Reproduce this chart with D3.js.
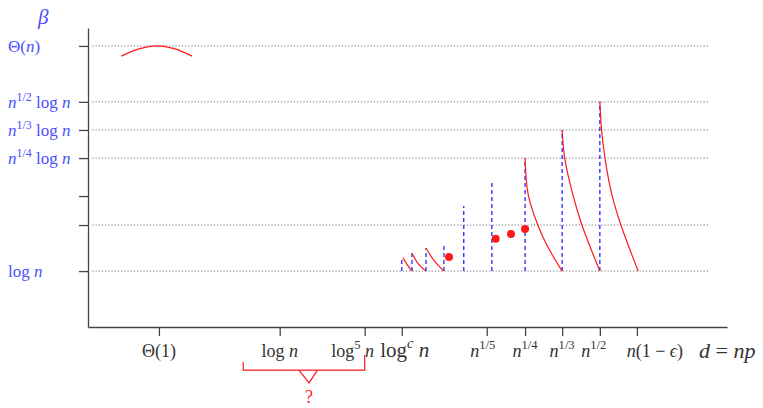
<!DOCTYPE html>
<html>
<head>
<meta charset="utf-8">
<script src="https://cdn.jsdelivr.net/npm/d3@7"></script>
<style>
  body { margin: 0; background: #fff; }
  text { font-family: "Liberation Serif", "DejaVu Serif", serif; }
</style>
</head>
<body>
<div class="chart"></div>
<script>
const width = 763, height = 408;

// x positions of the ticks on the d = np axis (abstract 0..100 units)
const xTickPos = [11.1, 30.0, 43.3, 49.1, 62.4, 68.4, 74.2, 80.1, 85.9];
const xTickLabels = [
  [["Θ(1)", ""]],
  [["log ", ""], ["n", "i"]],
  [["log", ""], ["5", "sup"], [" n", "i"]],
  [["log", ""], ["c", "supi"], [" n", "i"]],
  [["n", "i"], ["1/5", "sup"]],
  [["n", "i"], ["1/4", "sup"]],
  [["n", "i"], ["1/3", "sup"]],
  [["n", "i"], ["1/2", "sup"]],
  [["n", "i"], ["(1 − ", ""], ["ϵ", "i"], [")", ""]]
];

// beta axis ticks (abstract 0..100 units)
const yTickPos = [94.0, 75.3, 65.9, 56.5, 43.8, 34.1, 18.7];
const yTickLabels = [
  [["Θ(", ""], ["n", "i"], [")", ""]],
  [["n", "i"], ["1/2", "sup"], [" log ", ""], ["n", "i"]],
  [["n", "i"], ["1/3", "sup"], [" log ", ""], ["n", "i"]],
  [["n", "i"], ["1/4", "sup"], [" log ", ""], ["n", "i"]],
  [],
  [],
  [["log ", ""], ["n", "i"]]
];
const gridPos = [94.0, 75.3, 65.9, 56.5, 34.1, 18.7];

// blue dashed verticals: x and top
const dashX   = [49.1, 50.7, 52.9, 55.7, 58.8, 63.2, 68.4, 74.2, 80.1];
const dashTop = [23.4, 24.7, 26.4, 27.4, 40.5, 48.5, 56.5, 65.9, 75.3];
const baseBeta = 18.7;

// red dots
const dotX = [56.5, 63.8, 66.2, 68.4];
const dotY = [23.4, 29.5, 31.1, 32.8];

// red curves
const curves = [
  [[49.3, 23.1], [50.0, 20.7], [50.7, 18.7]],
  [[50.7, 24.7], [51.6, 21.4], [52.9, 18.7]],
  [[52.9, 26.4], [54.1, 22.4], [55.7, 18.7]],
  [[68.4, 56.5], [68.9, 44.1], [70.4, 34.1], [71.8, 27.4], [74.2, 18.7]],
  [[74.2, 65.9], [74.6, 56.5], [75.9, 44.1], [77.3, 34.1], [80.1, 18.7]],
  [[80.1, 75.3], [80.4, 65.2], [80.9, 56.5], [82.0, 44.1], [83.4, 34.1], [86.1, 18.7]]
];
const arc = [[5.2, 90.6], [8.0, 93.0], [10.8, 94.0], [13.6, 93.0], [16.3, 90.6]];

const blue = "#4d4dff", red = "#ff1a1a";

const svg = d3.select('.chart')
  .append('svg')
  .attr('width', width)
  .attr('height', height);

const xScale = d3.scaleLinear().domain([0, 100]).range([88, 727]);
const yScale = d3.scaleLinear().domain([0, 100]).range([327, 28]);

function writeParts(sel, parts, size) {
  let up = false;
  parts.forEach(p => {
    const t = sel.append("tspan").text(p[0]);
    const sup = p[1] === "sup" || p[1] === "supi";
    if (p[1] === "i" || p[1] === "supi") t.attr("font-style", "italic");
    if (sup && !up) t.attr("font-size", size * 0.7).attr("dy", -size * 0.42);
    else if (sup) t.attr("font-size", size * 0.7);
    else if (up) t.attr("dy", size * 0.42);
    up = sup;
  });
}

// gridlines
svg.selectAll(".grid")
  .data(gridPos)
  .join("line")
  .attr("class", "grid")
  .attr("x1", xScale(0.7)).attr("x2", xScale(97.3))
  .attr("y1", d => yScale(d)).attr("y2", d => yScale(d))
  .attr("stroke", "#555")
  .attr("stroke-width", 1)
  .attr("stroke-dasharray", "1,2.2");

// axes
const xAxis = d3.axisBottom(xScale).tickValues(xTickPos).tickFormat("").tickSize(9).tickSizeOuter(0);
const yAxis = d3.axisLeft(yScale).tickValues(yTickPos).tickFormat("").tickSize(9).tickSizeOuter(0);

svg.append("g").attr("transform", "translate(0," + yScale(0) + ")").call(xAxis)
  .call(g => g.selectAll("line, path").attr("stroke", "#444").attr("stroke-width", 1.3));
svg.append("g").attr("transform", "translate(" + xScale(0) + ",0)").call(yAxis)
  .call(g => g.selectAll("line, path").attr("stroke", "#444").attr("stroke-width", 1.3));

// x labels
const xShift = [0, 0, -12, 3, -4, 0, 0, -6, 18];
xTickLabels.forEach((parts, i) => {
  const big = i === 3;
  const size = big ? 21 : 18;
  const t = svg.append("text")
    .attr("x", xScale(xTickPos[i]) + xShift[i])
    .attr("y", 357)
    .attr("text-anchor", "middle")
    .attr("font-size", size)
    .attr("fill", "#333");
  writeParts(t, parts, size);
});

// d = np
const dl = svg.append("text").attr("x", 699).attr("y", 358).attr("font-size", 22).attr("fill", "#333");
writeParts(dl, [["d", "i"], [" = ", ""], ["np", "i"]], 22);

// y labels
yTickLabels.forEach((parts, i) => {
  if (!parts.length) return;
  const size = 17;
  const t = svg.append("text")
    .attr("x", 8)
    .attr("y", yScale(yTickPos[i]) + 6)
    .attr("font-size", size)
    .attr("fill", blue);
  writeParts(t, parts, size);
});

// beta
svg.append("text").attr("x", 38).attr("y", 24)
  .attr("font-size", 21).attr("font-style", "italic").attr("fill", blue).text("β");

// dashed verticals
svg.selectAll(".dash")
  .data(dashX)
  .join("line")
  .attr("class", "dash")
  .attr("x1", d => xScale(d)).attr("x2", d => xScale(d))
  .attr("y1", yScale(baseBeta))
  .attr("y2", (d, i) => yScale(dashTop[i]))
  .attr("stroke", "#3535ff")
  .attr("stroke-width", 1.4)
  .attr("stroke-dasharray", "4,3");

// red curves
const line = d3.line().x(d => xScale(d[0])).y(d => yScale(d[1])).curve(d3.curveCatmullRom);
svg.selectAll(".curve")
  .data(curves.concat([arc]))
  .join("path")
  .attr("class", "curve")
  .attr("d", line)
  .attr("fill", "none")
  .attr("stroke", red)
  .attr("stroke-width", 1.2);

// red dots
svg.selectAll(".dot")
  .data(dotX)
  .join("circle")
  .attr("class", "dot")
  .attr("cx", d => xScale(d))
  .attr("cy", (d, i) => yScale(dotY[i]))
  .attr("r", 4)
  .attr("fill", red);

// bracket with question mark under log n .. log^5 n
const bx0 = xScale(24.3), bx1 = xScale(43.3);
const by = yScale(-14.4);
svg.append("path")
  .attr("d", "M" + bx0 + "," + yScale(-11.7) + "V" + by + "H" + bx1 + "V" + yScale(-9.4)
    + "M" + xScale(33.0) + "," + by + "L" + xScale(34.6) + "," + yScale(-18.7) + "L" + xScale(35.9) + "," + by)
  .attr("fill", "none")
  .attr("stroke", red)
  .attr("stroke-width", 1.2);
svg.append("text")
  .attr("x", xScale(34.6)).attr("y", 403)
  .attr("text-anchor", "middle")
  .attr("font-size", 18)
  .attr("fill", red)
  .text("?");
</script>
</body>
</html>
